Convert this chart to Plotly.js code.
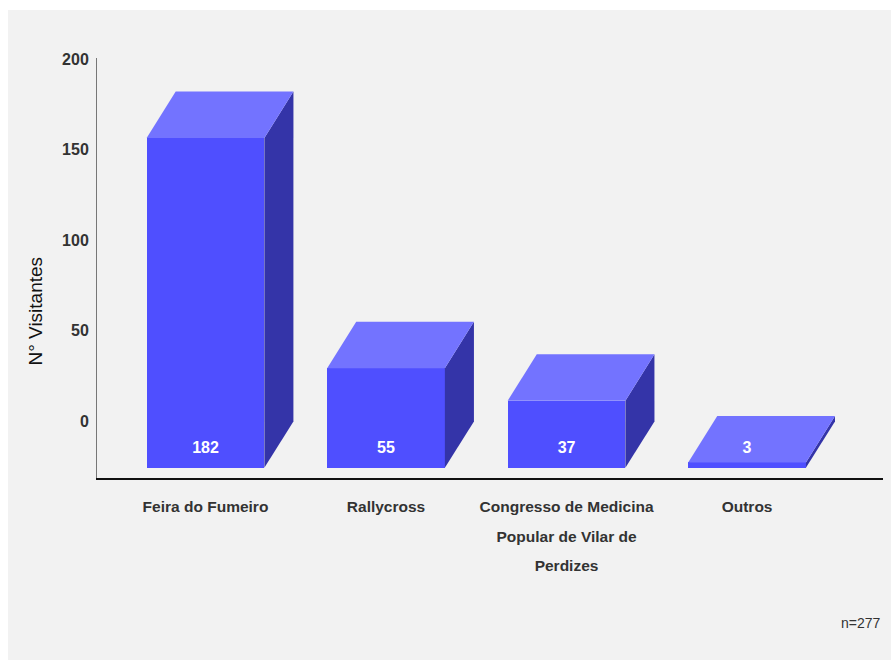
<!DOCTYPE html>
<html>
<head>
<meta charset="utf-8">
<script src="https://cdn.plot.ly/plotly-3.0.1.min.js"></script>
<style>
  html, body { margin: 0; padding: 0; background: #ffffff; }
  #chart { position: absolute; left: 8px; top: 10px; width: 883px; height: 650px; }
</style>
</head>
<body>
<div id="chart"></div>
<script>
// ---- data ----
const categories = ["Feira do Fumeiro", "Rallycross", "Congresso de Medicina<br>Popular de Vilar de<br>Perdizes", "Outros"];
const visitors = [182, 55, 37, 3];
const yTickValues = [0, 50, 100, 150, 200];
const yAxisTitle = "N° Visitantes";
const sampleNote = "n=277";

// ---- style constants (3D look) ----
const DEPTH_Y = 25.6;   // vertical depth offset in y units
const DEPTH_X = 0.161;  // horizontal depth offset in category units
const BAR_W = 0.652;
const FRONT = "#4f4fff", TOP = "#7373ff", SIDE = "#3434a8";
const FONT = "'Liberation Sans', Arial, sans-serif";
const LABEL_PX = 15.5;

const xIdx = categories.map((_, i) => i);
const xTickText = categories.map(c => c.split("<br>").map(l => `<span style="font-size:${LABEL_PX}px">${l}</span>`).join("<br>"));
const traces = [];

// side faces
visitors.forEach((v, i) => {
  const xr = i + BAR_W / 2;
  traces.push({
    type: "scatter", mode: "lines", fill: "toself", fillcolor: SIDE,
    line: { width: 0, color: SIDE }, hoverinfo: "skip", showlegend: false,
    x: [xr, xr + DEPTH_X, xr + DEPTH_X, xr, xr],
    y: [-DEPTH_Y, 0, v, v - DEPTH_Y, -DEPTH_Y]
  });
});
// top faces
visitors.forEach((v, i) => {
  const xl = i - BAR_W / 2, xr = i + BAR_W / 2;
  traces.push({
    type: "scatter", mode: "lines", fill: "toself", fillcolor: TOP,
    line: { width: 0, color: TOP }, hoverinfo: "skip", showlegend: false,
    x: [xl, xr, xr + DEPTH_X, xl + DEPTH_X, xl],
    y: [v - DEPTH_Y, v - DEPTH_Y, v, v, v - DEPTH_Y]
  });
});
// front faces
traces.push({
  type: "bar", x: xIdx, y: visitors, base: visitors.map(() => -DEPTH_Y),
  width: BAR_W, marker: { color: FRONT, line: { width: 0 } },
  hoverinfo: "x+y", showlegend: false
});
// value labels
traces.push({
  type: "scatter", mode: "text", x: xIdx, y: visitors.map(() => -DEPTH_Y + 10.5),
  text: visitors.map(String), showlegend: false, hoverinfo: "skip",
  textfont: { family: FONT, size: 16, color: "#ffffff", weight: 700 },
  textposition: "middle center"
});

const layout = {
  width: 883, height: 650,
  paper_bgcolor: "#f2f2f2", plot_bgcolor: "#f2f2f2",
  margin: { l: 89, r: 8, t: 48, b: 182 },
  showlegend: false,
  bargap: 0,
  xaxis: {
    range: [-0.601, 3.753], tickvals: xIdx, ticktext: xTickText,
    showgrid: false, zeroline: false, showline: true, linecolor: "#111111", linewidth: 2,
    ticks: "", ticklabelstandoff: 4,
    tickfont: { family: FONT, size: 23, color: "#333333", weight: 700 },
    fixedrange: true
  },
  yaxis: {
    range: [-31.2, 200.5], tickvals: yTickValues, ticktext: yTickValues.map(String),
    showgrid: false, zeroline: false, showline: true, linecolor: "#777777", linewidth: 1,
    ticks: "", ticklabelstandoff: 4,
    tickfont: { family: FONT, size: 16, color: "#333333", weight: 700 },
    fixedrange: true
  },
  annotations: [
    { text: yAxisTitle, xref: "paper", yref: "paper", x: -0.078, y: 0.398, xanchor: "center", yanchor: "middle",
      textangle: -90, showarrow: false, font: { family: FONT, size: 19, color: "#111111" } },
    { text: sampleNote, xref: "paper", yref: "paper", x: 1.0, y: -0.345, xanchor: "right", yanchor: "middle",
      showarrow: false, font: { family: FONT, size: 14, color: "#333333" } }
  ]
};

Plotly.newPlot("chart", traces, layout, { displayModeBar: false, staticPlot: true });
</script>
</body>
</html>
